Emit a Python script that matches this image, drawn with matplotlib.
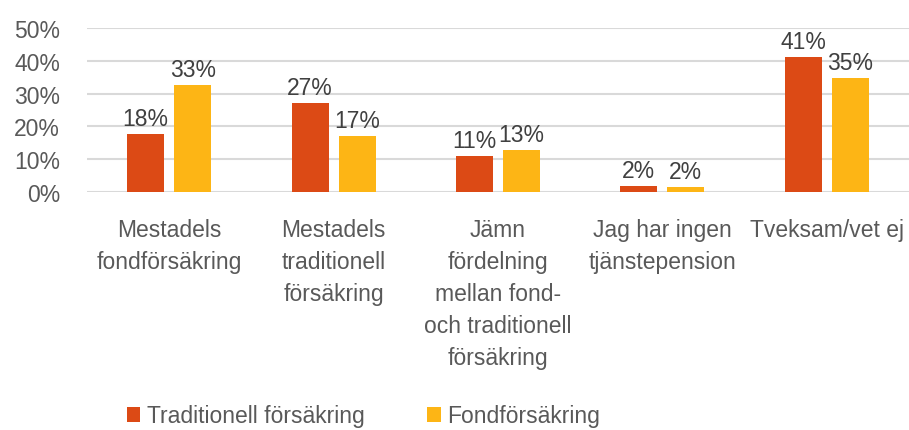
import numpy as np
import matplotlib.pyplot as plt

plt.rcParams['font.family'] = ['Liberation Sans', 'DejaVu Sans']

# data
categories = ['Mestadels\nfondförsäkring',
              'Mestadels\ntraditionell\nförsäkring',
              'Jämn\nfördelning\nmellan fond-\noch traditionell\nförsäkring',
              'Jag har ingen\ntjänstepension',
              'Tveksam/vet ej']
traditionell = [0.177, 0.271, 0.111, 0.018, 0.411]
fond = [0.327, 0.171, 0.128, 0.015, 0.348]
series_names = ['Traditionell försäkring', 'Fondförsäkring']
yticks = [0, 0.1, 0.2, 0.3, 0.4, 0.5]
ytick_labels = ['0%', '10%', '20%', '30%', '40%', '50%']

red = '#DC4A15'
yellow = '#FDB515'
tick_color = '#595959'
label_color = '#404040'
fs = 16.5

fig = plt.figure(figsize=(9.09, 4.31), dpi=100)
ax = fig.add_axes([87 / 909, 238 / 431, 822 / 909, 164 / 431])

x = np.arange(len(categories))
w = 0.225
off = 0.143
b1 = ax.bar(x - off, traditionell, w, color=red, label=series_names[0], zorder=3)
b2 = ax.bar(x + off, fond, w, color=yellow, label=series_names[1], zorder=3)

for bars, vals in [(b1, traditionell), (b2, fond)]:
    for b, v in zip(bars, vals):
        ax.text(b.get_x() + b.get_width() / 2, v + 0.012, f'{round(v * 100)}%',
                ha='center', va='bottom', fontsize=fs, color=label_color)

ax.set_xlim(-0.5, len(categories) - 0.5)
ax.set_ylim(0, 0.5)
ax.set_yticks(yticks)
ax.set_yticklabels(ytick_labels)
ax.set_xticks(x)
ax.set_xticklabels(categories, linespacing=1.5)
ax.tick_params(axis='y', length=0, labelsize=fs, labelcolor=tick_color, pad=19.5)
ax.tick_params(axis='x', length=0, labelsize=fs, labelcolor=tick_color, pad=19)
ax.grid(axis='y', color='#D9D9D9', linewidth=1.5, zorder=0)
for s in ax.spines.values():
    s.set_visible(False)

fig.legend(handles=[b1, b2], loc='lower left', bbox_to_anchor=(106 / 909, -0.042),
           ncol=2, frameon=False, fontsize=fs, labelcolor=tick_color,
           handlelength=0.6, handleheight=0.6, handletextpad=0.3, columnspacing=2.7)

fig.savefig('out.png', dpi=100)
